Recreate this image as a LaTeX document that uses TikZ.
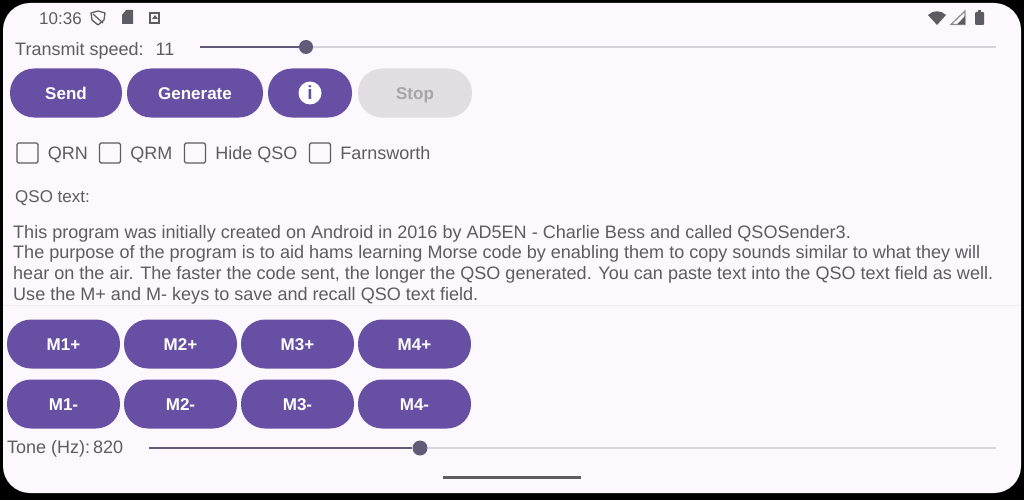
\documentclass[tikz,border=0pt]{standalone}
\usepackage{fontspec}
\setmainfont{Liberation Sans}
\usetikzlibrary{positioning}
\definecolor{screenbg}{HTML}{FDF8FE}
\definecolor{btnpurple}{HTML}{6750A4}
\definecolor{btnoff}{HTML}{E1DDE2}
\definecolor{txtoff}{HTML}{A8A4AB}
\definecolor{txtgrey}{HTML}{5E5B63}
\definecolor{thumbcol}{HTML}{635A78}
\definecolor{railoff}{HTML}{D8D2DE}
\tikzset{
  btn/.style={fill=btnpurple,text=white,rounded corners=24pt,inner sep=0pt,outer sep=0pt,
    minimum height=49pt,text height=13pt,text depth=0pt,font=\fontsize{17}{18}\selectfont\bfseries},
  lbl/.style={text=txtgrey,inner sep=0pt,anchor=west,text height=13pt,text depth=0pt,font=\fontsize{18}{20}\selectfont},
  chk/.style={draw=txtgrey,line width=1.4pt,rounded corners=1.5pt,inner sep=0pt,
    minimum width=21pt,minimum height=20pt},
  thumb/.style={circle,fill=thumbcol,inner sep=0pt,minimum size=15pt},
  railon/.style={draw=thumbcol,line width=2pt},
  railrest/.style={draw=railoff,line width=2pt},
  icon/.style={fill=txtgrey,draw=none},
}
\begin{document}
\begin{tikzpicture}[x=1pt,y=-1pt]
  \useasboundingbox (0,0) rectangle (1024,500);
  \fill[black] (0,0) rectangle (1024,500);
  \fill[screenbg,rounded corners=27pt] (3,3) rectangle (1021,493);

  % status bar
  \node[lbl,font=\fontsize{17}{19}\selectfont] (clock) at (39,18) {10:36};
  \draw[txtgrey,line width=1.3pt,line join=round] (91,13) -- (98,11) -- (105,13) -- (104,20) -- (98,25) -- (92,20) -- cycle;
  \draw[txtgrey,line width=1.2pt] (93,14) -- (103,23);
  \fill[icon] (122,15) -- (126,10) -- (133,10) -- (133,24) -- (122,24) -- cycle;
  \draw[txtgrey,line width=2pt] (150,13) rectangle (159,23);
  \fill[icon] (152,19) -- (155,15) -- (158,19) -- cycle;
  \fill[icon] (928,15) .. controls (933,10) and (941,10) .. (946,15) -- (937,25) -- cycle;
  \draw[txtgrey!70,line width=1.2pt] (951,24.5) -- (965,24.5) -- (965,11) -- cycle;
  \fill[icon] (965,24.5) -- (965,16) -- (957,24.5) -- cycle;
  \fill[icon,rounded corners=1pt] (975,12) rectangle (984,25);
  \fill[icon] (978,10) rectangle (981,12);

  % transmit speed slider
  \node[lbl] (speedlbl) at (15,49) {Transmit speed:\ \ \hspace{2pt}11};
  \coordinate (speedstart) at (200,47);
  \coordinate (speedend) at (996,47);
  \node[thumb,minimum size=14pt] (speedthumb) at (306,47) {};
  \draw[railrest] (speedthumb) -- (speedend);
  \draw[railon] (speedstart) -- (speedthumb);

  % buttons
  \node[btn,minimum width=112pt] (send) at (66,93) {Send};
  \node[btn,minimum width=136pt,right=5pt of send] (generate) {Generate};
  \node[btn,minimum width=84pt,right=5pt of generate] (info) {};
  \node[circle,fill=white,text=btnpurple,inner sep=0pt,minimum size=23pt,font=\fontsize{19}{19}\selectfont\bfseries] (infoicon) at (info) {i};
  \node[btn,fill=btnoff,text=txtoff,minimum width=114pt,right=6pt of info] (stop) {Stop};

  % check boxes
  \node[chk] (qrnbox) at (27.5,153) {};
  \node[lbl,right=9pt of qrnbox] (qrn) {QRN};
  \node[chk] (qrmbox) at (110,153) {};
  \node[lbl,right=9pt of qrmbox] (qrm) {QRM};
  \node[chk] (hidebox) at (195,153) {};
  \node[lbl,right=9pt of hidebox] (hide) {Hide QSO};
  \node[chk] (farnsbox) at (320,153) {};
  \node[lbl,right=9pt of farnsbox] (farns) {Farnsworth};

  % text field
  \node[lbl,font=\fontsize{17}{19}\selectfont] (qsolbl) at (15,196) {QSO text:};
  \node[lbl,anchor=north west,align=left,text height=,text depth=,font=\fontsize{18.05}{20.7}\selectfont] (qsotext) at (13,225) {This program was initially created on Android in 2016 by AD5EN - Charlie Bess and called QSOSender3.\\
The purpose of the program is to aid hams learning Morse code by enabling them to copy sounds similar to what they will\\
hear on the air. The faster the code sent, the longer the QSO generated. You can paste text into the QSO text field as well.\\
Use the M+ and M- keys to save and recall QSO text field.};
  \draw[draw=screenbg!95!black,line width=0.8pt] (3,305) -- (1021,305);

  % memory buttons
  \foreach \m/\xm in {1/63.5,2/180.5,3/297.5,4/414.5} {
    \node[btn,minimum width=113pt] (mem\m plus) at (\xm,344) {M\m+};
    \node[btn,minimum width=113pt] (mem\m minus) at (\xm,404) {M\m-};
  }

  % tone slider
  \node[lbl] (tonelbl) at (7,447) {Tone (Hz):\,820};
  \coordinate (tonestart) at (149,448);
  \coordinate (toneend) at (996,448);
  \node[thumb] (tonethumb) at (420,448) {};
  \draw[railrest] (tonethumb) -- (toneend);
  \draw[railon] (tonestart) -- (tonethumb);

  % home bar
  \coordinate (homeleft) at (443,477);
  \coordinate (homeright) at (581,477);
  \draw[txtgrey,line width=3pt] (homeleft) -- (homeright);
\end{tikzpicture}
\end{document}
